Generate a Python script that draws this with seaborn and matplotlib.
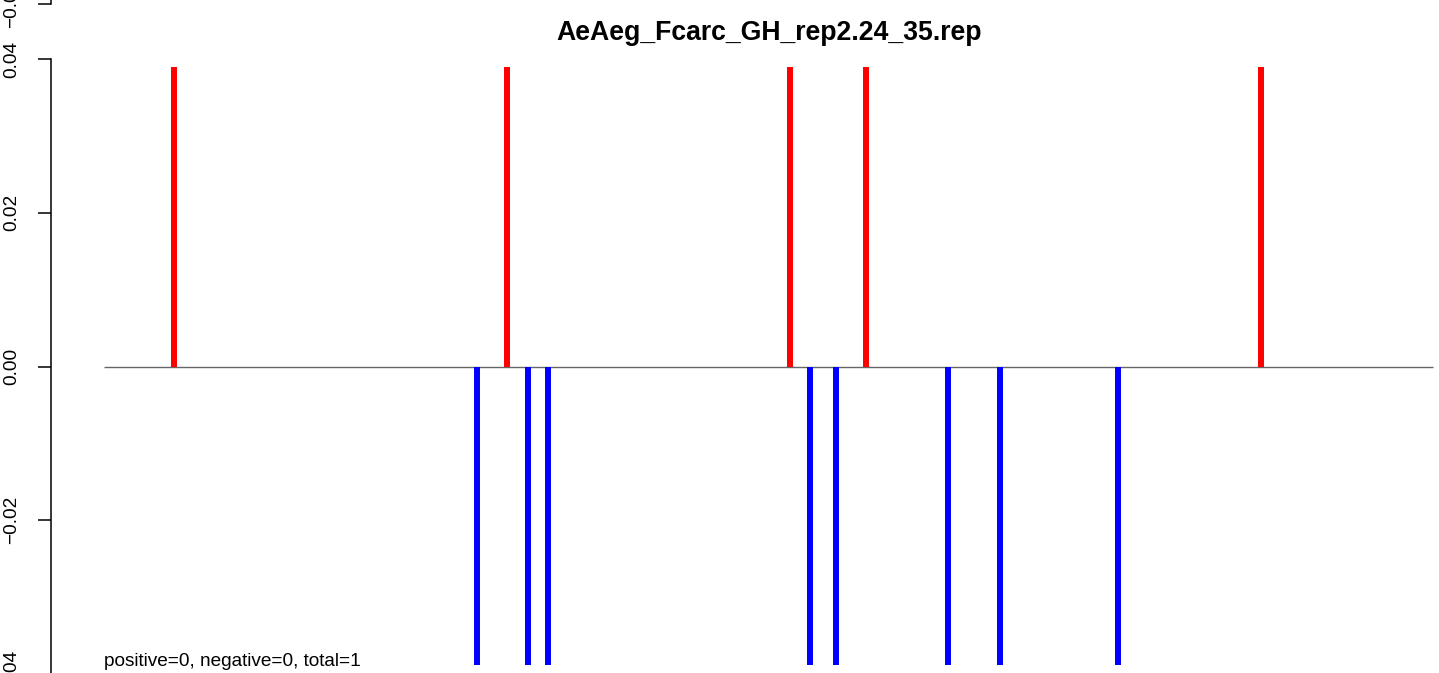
import numpy as np
import pandas as pd
import seaborn as sns
import matplotlib.pyplot as plt

# spike positions (position along the sequence)
title = "AeAeg_Fcarc_GH_rep2.24_35.rep"
seq_length = 1329
red_pos = [70, 403, 686, 762, 1157]
red_vals = [0.039, 0.039, 0.039, 0.039, 0.039]
blue_pos = [373, 424, 444, 706, 732, 844, 896, 1014]
blue_vals = [-0.0388, -0.0388, -0.0388, -0.0388, -0.0388, -0.0388, -0.0388, -0.0388]
y_ticks = [-0.04, -0.02, 0.00, 0.02, 0.04]
note = "positive=0, negative=0, total=1"

sns.set_style("white")
plt.rcParams['font.family'] = ['Liberation Sans', 'DejaVu Sans']
plt.rcParams['text.color'] = 'black'
plt.rcParams['ytick.color'] = 'black'
plt.rcParams['ytick.labelcolor'] = 'black'


def r_left_axis(ax, ticks, labels):
    """R-style left axis: rotated labels, outward ticks, no box."""
    ax.set_ylim(-0.04, 0.04)
    ax.set_xticks([])
    ax.set_yticks(ticks)
    ax.set_yticklabels(labels)
    ax.tick_params(axis="y", direction="out", length=9.4, width=1.1, pad=12.5,
                   labelsize=13.7, left=True, color="black", labelcolor="black")
    for lab in ax.get_yticklabels():
        lab.set_rotation(90)
        lab.set_va("center")
    for s in ["top", "right", "bottom"]:
        ax.spines[s].set_visible(False)
    ax.spines["left"].set_linewidth(1.1)
    ax.spines["left"].set_color("black")


W, H = 1439, 673
fig = plt.figure(figsize=(W / 100, H / 100), dpi=100)

pad = 0.04 * seq_length
ax_w = seq_length * 1.08 / W
ax = fig.add_axes([51 / W, (H - 674) / H, ax_w, 615 / H])

df = pd.DataFrame({
    "pos": red_pos + blue_pos,
    "val": red_vals + blue_vals,
    "sign": ["pos"] * len(red_pos) + ["neg"] * len(blue_pos),
})
colors = {"pos": "#ff0000", "neg": "#0000ff"}
for sign, grp in df.groupby("sign"):
    ax.vlines(grp["pos"], 0, grp["val"], colors=colors[sign], linewidth=4.3,
              capstyle="butt", zorder=3)

ax.hlines(0, 0, seq_length, color="#666666", linewidth=1.0, zorder=2)
ax.text(0, -0.039, note, fontsize=13.7, ha="left", va="baseline", color="black")

ax.set_xlim(-pad, seq_length + pad)
r_left_axis(ax, y_ticks, [f"{v:.2f}".replace("-", "\u2212") for v in y_ticks])
ax.set_title(title, fontsize=19.2, fontweight="bold", pad=13.7, color="black")

# bottom of the previous panel, cut off at the top of the image
ax_prev = fig.add_axes([51 / W, (H - 4) / H, ax_w, 615 / H])
r_left_axis(ax_prev, [-0.04], ["\u22120.04"])
ax_prev.patch.set_alpha(0)

fig.savefig("out.png", dpi=100)
